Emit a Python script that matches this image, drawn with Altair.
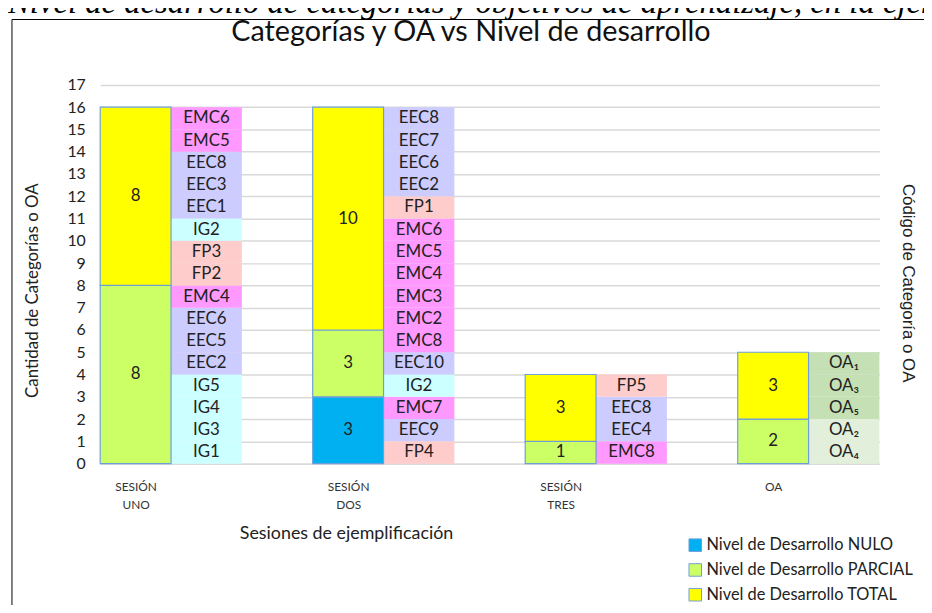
import altair as alt
import pandas as pd

# ---------------- data ----------------
groups = ["SESIÓN|UNO", "SESIÓN|DOS", "SESIÓN|TRES", "OA"]
levels = ["Nivel de Desarrollo NULO", "Nivel de Desarrollo PARCIAL", "Nivel de Desarrollo TOTAL"]
level_colors = ["#00B0F0", "#CCFF66", "#FFFF00"]

nulo = [0, 3, 0, 0]
parcial = [8, 3, 1, 2]
total = [8, 10, 3, 3]

# codes listed bottom -> top
codes_uno = ["IG1", "IG3", "IG4", "IG5", "EEC2", "EEC5", "EEC6", "EMC4",
             "FP2", "FP3", "IG2", "EEC1", "EEC3", "EEC8", "EMC5", "EMC6"]
codes_dos = ["FP4", "EEC9", "EMC7", "IG2", "EEC10", "EMC8", "EMC2", "EMC3",
             "EMC4", "EMC5", "EMC6", "FP1", "EEC2", "EEC6", "EEC7", "EEC8"]
codes_tres = ["EMC8", "EEC4", "EEC8", "FP5"]
codes_oa = ["OA₄", "OA₂", "OA₅", "OA₃", "OA₁"]
oa_kinds = ["OA_P", "OA_P", "OA_T", "OA_T", "OA_T"]

kind_colors = {"EMC": "#FF99FF", "EEC": "#CCCCFF", "IG": "#CCFFFF",
               "FP": "#FFCCCC", "OA_T": "#C5E0B4", "OA_P": "#E2EFDA"}

main_title = "Categorías y OA vs Nivel de desarrollo"
caption = "Nivel de desarrollo de categorías y objetivos de aprendizaje, en la ejemplificación"

# ---------------- tables ----------------
lev_rows = []
for gi in range(len(groups)):
    start = 0
    for li, vals in enumerate([nulo, parcial, total]):
        v = vals[gi]
        if v > 0:
            lev_rows.append({"x0": 3 * gi, "x1": 3 * gi + 1, "xm": 3 * gi + 0.5,
                             "y0": start, "y1": start + v, "ym": start + v / 2,
                             "nivel": levels[li], "val": str(v)})
        start += v
lev_df = pd.DataFrame(lev_rows)


def kind_of(code):
    for k in ["EMC", "EEC", "IG", "FP"]:
        if code.startswith(k):
            return k
    return "OA_T"


code_rows = []
for gi, lst in enumerate([codes_uno, codes_dos, codes_tres, codes_oa]):
    for k, c in enumerate(lst):
        kind = oa_kinds[k] if gi == 3 else kind_of(c)
        code_rows.append({"x0": 3 * gi + 1, "x1": 3 * gi + 2, "xm": 3 * gi + 1.5,
                          "y0": k, "y1": k + 1, "ym": k + 0.5,
                          "code": c, "col": kind_colors[kind]})
code_df = pd.DataFrame(code_rows)

FONT = "Lato"
W, H = 786, 382

label_list = "[" + ",".join("'" + g + "'" for g in groups) + "]"
xscale = alt.Scale(domain=[0, 11], nice=False, zero=False)
yscale = alt.Scale(domain=[0, 17], nice=False)

x_axis = alt.Axis(values=[0.5, 3.5, 6.5, 9.5],
                  labelExpr="split(" + label_list + "[floor(datum.value / 3)], '|')",
                  grid=False, ticks=False, domain=True, domainColor="#D9D9D9",
                  domainWidth=1.5, labelFontSize=12, labelColor="#333333",
                  labelFont=FONT, labelPadding=18, labelLineHeight=18,
                  labelBaseline="top", labelAngle=0,
                  title="Sesiones de ejemplificación", titleFont=FONT,
                  titleFontSize=18, titleFontWeight="normal", titleColor="#222222",
                  titleX=248, titleY=62, titleAlign="center", titleBaseline="top")

y_axis = alt.Axis(values=list(range(0, 18)), grid=True, gridColor="#D9D9D9",
                  gridWidth=1.5, domain=False, ticks=False, labelFontSize=16,
                  labelFont=FONT, labelColor="#222222", labelPadding=15,
                  labelOverlap=False,
                  title="Cantidad de Categorías o OA", titleFont=FONT,
                  titleFontSize=17, titleFontWeight="normal", titleColor="#222222",
                  titleX=-68, titleY=207, titleAngle=270, titleAlign="center",
                  titleBaseline="middle")


def X(field):
    return alt.X(field, scale=xscale, axis=x_axis)


def Y(field):
    return alt.Y(field, scale=yscale, axis=y_axis)


codes_bar = alt.Chart(code_df).mark_rect().encode(
    x=X("x0:Q"), x2="x1:Q", y=Y("y0:Q"), y2="y1:Q",
    fill=alt.Fill("col:N", scale=None))

levels_bar = alt.Chart(lev_df).mark_rect(stroke="#6F9FD8", strokeWidth=1.2).encode(
    x=X("x0:Q"), x2="x1:Q", y=Y("y0:Q"), y2="y1:Q",
    color=alt.Color("nivel:N", scale=alt.Scale(domain=levels, range=level_colors),
                    legend=alt.Legend(orient="none", legendX=592, legendY=456,
                                      title=None, symbolType="square", symbolSize=160,
                                      symbolStrokeColor="#6F9FD8", symbolStrokeWidth=1,
                                      labelFont=FONT, labelFontSize=16.5, labelLimit=0,
                                      labelColor="#222222", rowPadding=7,
                                      labelOffset=3, padding=0)),
)

levels_txt = alt.Chart(lev_df).mark_text(font=FONT, fontSize=17, color="#222222").encode(
    x=X("xm:Q"), y=Y("ym:Q"), text="val:N")

codes_txt = alt.Chart(code_df).mark_text(font=FONT, fontSize=17, color="#222222").encode(
    x=X("xm:Q"), y=Y("ym:Q"), text="code:N")

right_title = alt.Chart(pd.DataFrame({"t": ["Código de Categoría o OA"]})).mark_text(
    font="Liberation Sans", fontSize=17, color="#222222", angle=90,
    align="center", baseline="middle").encode(
    x=alt.value(815), y=alt.value(200), text="t:N")

top_title = alt.Chart(pd.DataFrame({"t": [main_title]})).mark_text(
    font=FONT, fontSize=29, color="#111111", align="center",
    baseline="alphabetic").encode(
    x=alt.value(374), y=alt.value(-44), text="t:N")

frame = alt.Chart(pd.DataFrame({"t": [1]})).mark_rect(
    fillOpacity=0, stroke="#000000", strokeWidth=1).encode(
    x=alt.value(-89), x2=alt.value(900), y=alt.value(-66), y2=alt.value(600))

cap = alt.Chart(pd.DataFrame({"t": [caption]})).mark_text(
    font="Liberation Serif", fontStyle="italic", fontSize=33, color="#000000",
    align="left", baseline="alphabetic").encode(
    x=alt.value(-93), y=alt.value(-73), text="t:N")

chart = alt.layer(codes_bar, levels_bar, levels_txt, codes_txt,
                  frame, right_title, top_title, cap).properties(
    width=W, height=H,
    autosize=alt.AutoSizeParams(type="none"),
    padding={"left": 93, "top": 75, "right": 45, "bottom": 140},
).configure_view(stroke=None)

chart.save("out.html", embed_options={"renderer": "svg", "actions": False})
